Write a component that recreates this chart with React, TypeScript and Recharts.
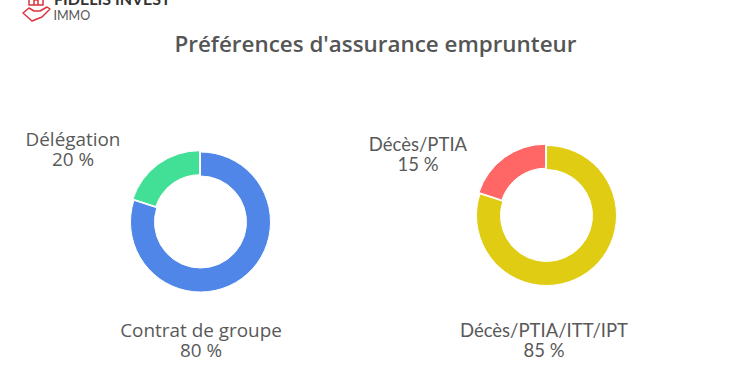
import { PieChart, Pie, Cell, Sector } from 'recharts'

const LATO = 'Lato, "Noto Sans", sans-serif'
const OPEN = '"Open Sans", "Noto Sans", sans-serif'

const groupNames = ['Contrat de groupe', 'Délégation']
const groupValues = [80, 20]
const groupLabels = ['80 %', '20 %']
const groupColors = ['#4f86e8', '#42e096']

const coverNames = ['Décès/PTIA/ITT/IPT', 'Décès/PTIA']
// drawn share of the slices, the printed labels say 85 / 15
const coverValues = [80, 20]
const coverLabels = ['85 %', '15 %']
const coverColors = ['#e1cc14', '#ff6767']

const toRows = (names: string[], values: number[]) =>
  names.map((name, i) => ({ name, value: values[i] }))

// The smaller slice sits slightly pulled out of the ring
function Slice(props: any) {
  const shift = props.value < 50 ? 1.6 : 0
  const rad = (props.midAngle * Math.PI) / 180
  return (
    <Sector
      {...props}
      cx={props.cx + shift * Math.cos(rad)}
      cy={props.cy - shift * Math.sin(rad)}
    />
  )
}

function TwoLines({ x, y, lines, font }: { x: number; y: number; lines: string[]; font: string }) {
  return (
    <text x={x} y={y} textAnchor="middle" fontFamily={font} fontSize={font === OPEN ? 18.9 : 18.5} fill="#595959">
      <tspan x={x}>{lines[0]}</tspan>
      <tspan x={x} dy={19.5}>{lines[1]}</tspan>
    </text>
  )
}

function Logo() {
  return (
    <g>
      <g fill="none" stroke="#d9333f" strokeWidth={1.5} strokeLinejoin="round">
        <path d="M23 13 L29 8 L34 11 L40 11 L47 7 L50 9 L42 17 L32 21 Z" />
        <path d="M29 -1 L29 5 L43 5 L43 -1" />
        <path d="M34 5 L34 0 L38 0 L38 5" />
      </g>
      <text x={54} y={5} fontFamily={LATO} fontSize={16} fontWeight={700} fill="#333">
        FIDELIS INVEST
      </text>
      <text x={53.5} y={19.5} fontFamily={LATO} fontSize={12.5} fill="#555">
        IMMO
      </text>
    </g>
  )
}

export default function App() {
  return (
    <div style={{ position: 'absolute', left: 0, top: 0, width: 750, height: 375, background: '#fff' }}>
      <PieChart width={750} height={375} margin={{ top: 0, right: 0, bottom: 0, left: 0 }}>
        <Logo />
        <text
          x={375.5}
          y={52}
          textAnchor="middle"
          fontFamily={OPEN}
          fontSize={22.4}
          fontWeight={600}
          fill="#555"
        >
          Préférences d'assurance emprunteur
        </text>
        <Pie
          data={toRows(groupNames, groupValues)}
          dataKey="value"
          nameKey="name"
          cx={200.5}
          cy={222}
          innerRadius={46}
          outerRadius={70}
          startAngle={90}
          endAngle={-270}
          stroke="#fff"
          strokeWidth={1}
          shape={Slice}
          isAnimationActive={false}
        >
          {groupColors.map((c) => (
            <Cell key={c} fill={c} />
          ))}
        </Pie>
        <Pie
          data={toRows(coverNames, coverValues)}
          dataKey="value"
          nameKey="name"
          cx={546.5}
          cy={215.5}
          innerRadius={46}
          outerRadius={70}
          startAngle={90}
          endAngle={-270}
          stroke="#fff"
          strokeWidth={1}
          shape={Slice}
          isAnimationActive={false}
        >
          {coverColors.map((c) => (
            <Cell key={c} fill={c} />
          ))}
        </Pie>
        <TwoLines x={73} y={146} font={OPEN} lines={[groupNames[1], groupLabels[1]]} />
        <TwoLines x={201} y={337} font={OPEN} lines={[groupNames[0], groupLabels[0]]} />
        <TwoLines x={418} y={151} font={LATO} lines={[coverNames[1], coverLabels[1]]} />
        <TwoLines x={544} y={337} font={LATO} lines={[coverNames[0], coverLabels[0]]} />
      </PieChart>
    </div>
  )
}
